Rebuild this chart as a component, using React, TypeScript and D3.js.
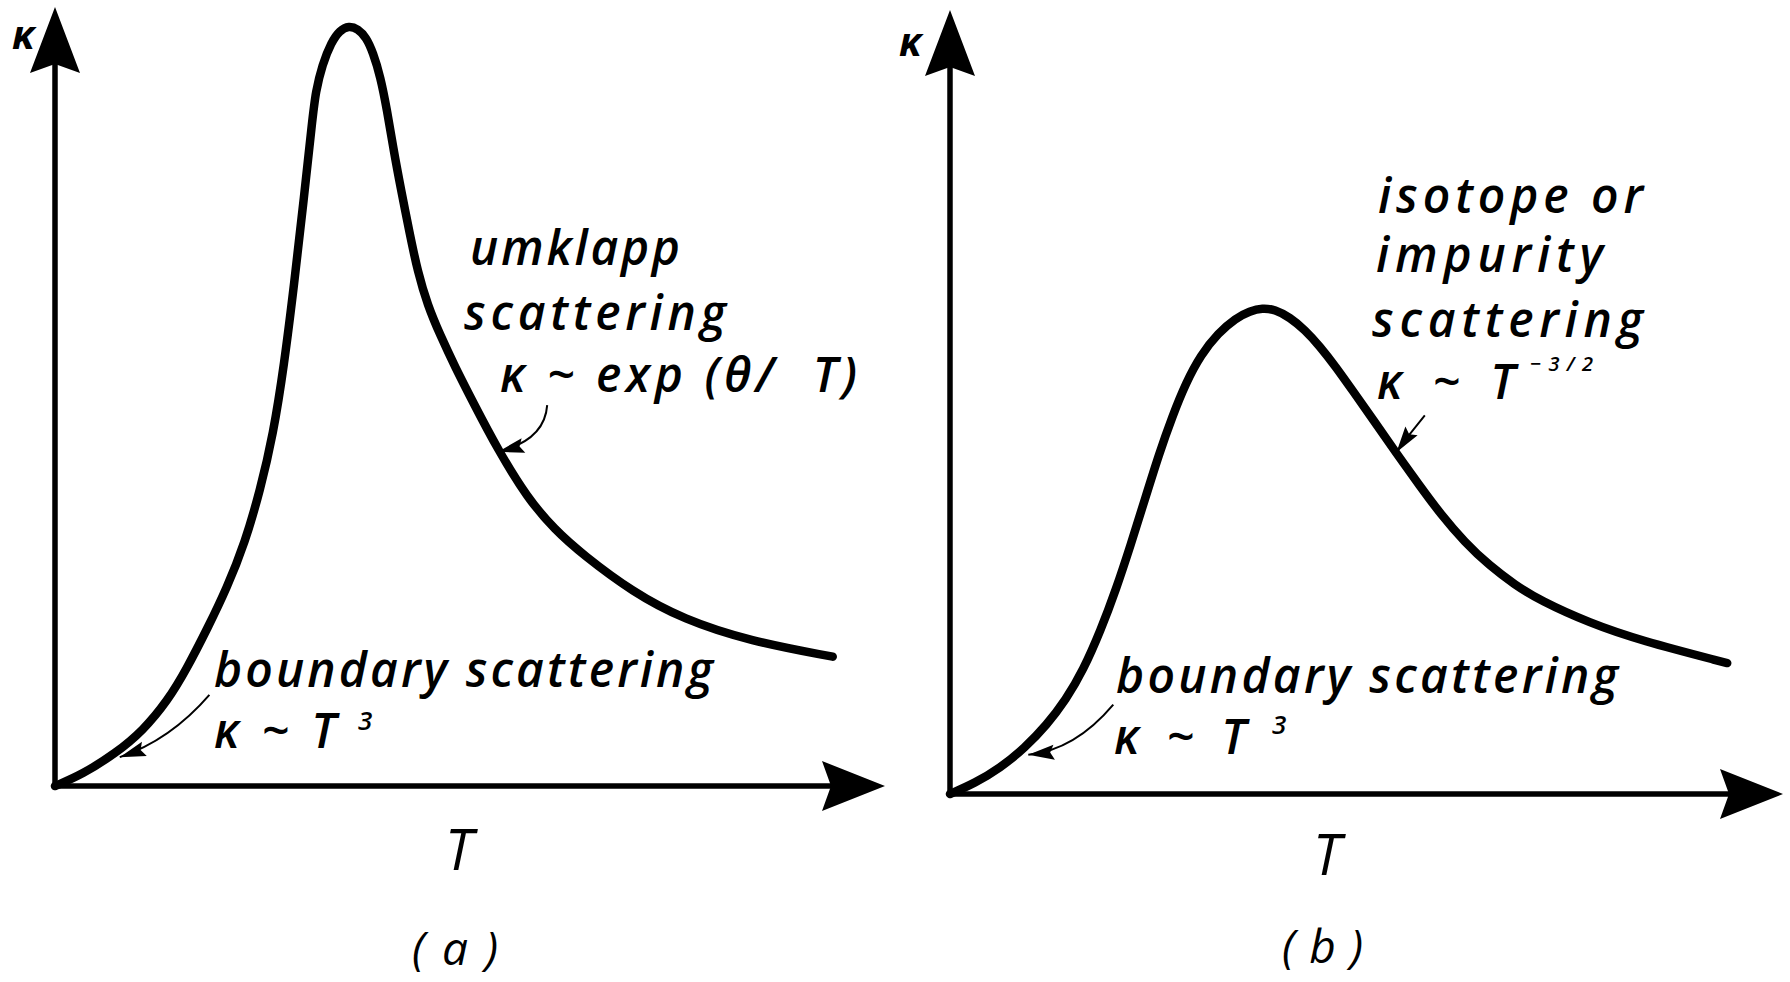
import React from "react";
import * as d3 from "d3";

const W = 1790;
const H = 982;

// ---- Data (arbitrary units, 0..100 on both axes) ----
// Panel (a): umklapp-limited peak
const tempA = [0, 3.3, 7.3, 10.6, 13.6, 15.8, 18.4, 20.7, 22.9, 24.7, 26.3, 27.6, 28.8, 29.9, 31.0, 31.4, 32.2, 33.3, 34.3, 35.4, 36.5, 37.5, 38.3, 39.2, 40.0, 40.8, 41.7, 42.7, 43.7, 44.9, 46.4, 48.2, 50.4, 53.4, 56.9, 60.2, 63.6, 69.6, 75.7, 83.7, 93.7];
const kappaA = [0, 1.5, 4.2, 7.1, 11.0, 14.9, 20.3, 25.4, 31.3, 37.9, 45.2, 54.0, 64.3, 74.6, 85.5, 89.1, 92.6, 95.5, 97.0, 97.6, 97.2, 96.1, 94.2, 91.1, 86.8, 81.6, 76.5, 71.1, 66.0, 61.7, 57.9, 53.8, 49.2, 43.1, 37.0, 32.9, 29.7, 24.9, 21.4, 18.6, 16.6];

// Panel (b): isotope / impurity-limited peak
const tempB = [0, 3.0, 6.0, 9.0, 11.6, 13.9, 16.0, 18.1, 19.9, 21.7, 23.4, 25.1, 26.7, 28.3, 30.1, 32.2, 34.3, 36.0, 37.5, 39.0, 40.8, 42.6, 44.4, 46.3, 48.3, 50.9, 53.5, 56.4, 58.9, 61.8, 64.8, 67.8, 70.8, 76.8, 82.8, 93.3];
const kappaB = [0, 1.4, 3.3, 5.9, 8.8, 12.0, 15.8, 20.9, 26.0, 31.8, 37.6, 43.4, 48.2, 52.4, 56.0, 58.8, 60.7, 61.6, 62.0, 61.8, 60.8, 59.2, 57.1, 54.5, 51.5, 47.6, 43.6, 39.3, 35.7, 32.1, 29.1, 26.7, 24.7, 21.8, 19.6, 16.7];

// Text
const axisLabelY = "κ";
const axisLabelX = "T";
const panelTitles = ["(a)", "(b)"];
const annA = ["umklapp", "scattering", "κ ~ exp (θ/  T)", "boundary scattering", "κ ~ T", "3"];
const annB = ["isotope or", "impurity", "scattering", "κ ~ T", "−3/2", "boundary scattering", "κ ~ T", "3"];

// Annotation arrows in data units: [fromT, fromK, ctrlT, ctrlK, toT, toK]
const arrowsA = [
  [18.6, 11.7, 13.9, 5.9, 7.8, 3.7],
  [59.3, 48.9, 59.0, 44.4, 53.4, 42.9],
];
const arrowsB = [
  [19.6, 11.4, 15.0, 5.6, 9.4, 5.0],
  [57.0, 48.3, 55.2, 46.0, 53.6, 43.6],
];

const FONT = "'Open Sans', 'Noto Sans', 'DejaVu Sans', sans-serif";

function arrowHead(tx: number, ty: number, dx: number, dy: number, len: number, hw: number, notch: number) {
  const n = Math.hypot(dx, dy);
  const ux = dx / n, uy = dy / n;
  const px = -uy, py = ux;
  const bx = tx - ux * len, by = ty - uy * len;
  const nx = tx - ux * (len - notch), ny = ty - uy * (len - notch);
  return `M${tx},${ty}L${bx + px * hw},${by + py * hw}L${nx},${ny}L${bx - px * hw},${by - py * hw}Z`;
}

type PanelProps = {
  xRange: [number, number];
  yRange: [number, number];
  temp: number[];
  kappa: number[];
  arrows: number[][];
  children?: React.ReactNode;
};

function Panel({ xRange, yRange, temp, kappa, arrows, children }: PanelProps) {
  const xs = d3.scaleLinear().domain([0, 100]).range(xRange);
  const ys = d3.scaleLinear().domain([0, 100]).range(yRange);
  const pts: [number, number][] = temp.map((t, i) => [t, kappa[i]]);
  const line = d3
    .line<[number, number]>()
    .x((d) => xs(d[0]))
    .y((d) => ys(d[1]))
    .curve(d3.curveBasis);
  const ox = xs(0), oy = ys(0);
  const xt = xs(100), yt = ys(100);
  return (
    <g>
      {/* axes */}
      <line x1={ox - 2.5} y1={oy} x2={xt - 40} y2={oy} stroke="#000" strokeWidth={5.5} />
      <line x1={ox} y1={oy + 2.5} x2={ox} y2={yt + 40} stroke="#000" strokeWidth={5.5} />
      <path d={arrowHead(xt, oy, 1, 0, 63, 25, 9)} fill="#000" />
      <path d={arrowHead(ox, yt, 0, -1, 66, 25, 9)} fill="#000" />
      {/* curve */}
      <path d={line(pts) || ""} fill="none" stroke="#000" strokeWidth={8.5} strokeLinecap="round" strokeLinejoin="round" />
      {/* annotation arrows */}
      {arrows.map((a, i) => {
        const fx = xs(a[0]), fy = ys(a[1]);
        const cx = xs(a[2]), cy = ys(a[3]);
        const tx = xs(a[4]), ty = ys(a[5]);
        return (
          <g key={i}>
            <path d={`M${fx},${fy}Q${cx},${cy} ${tx},${ty}`} fill="none" stroke="#000" strokeWidth={2} />
            <path d={arrowHead(tx, ty, tx - cx, ty - cy, 26, 7.5, 4)} fill="#000" />
          </g>
        );
      })}
      {children}
    </g>
  );
}

const txt = {
  fontFamily: FONT,
  fontStyle: "italic" as const,
  fontWeight: 600,
  fill: "#000",
};

export default function App() {
  return (
    <svg
      width={W}
      height={H}
      viewBox={`0 0 ${W} ${H}`}
      style={{ position: "absolute", left: 0, top: 0, background: "#fff" }}
    >
      <rect width={W} height={H} fill="#fff" />
      {/* Panel (a) */}
      <Panel xRange={[55, 885]} yRange={[786, 7]} temp={tempA} kappa={kappaA} arrows={arrowsA}>
        <text x={12} y={49} fontSize={40} {...txt} fontWeight={700}>{axisLabelY}</text>
        <text x={459} y={870} fontSize={56} textAnchor="middle" {...txt} fontWeight={400}>{axisLabelX}</text>
        <text x={412} y={965} fontSize={46} textLength={86} lengthAdjust="spacing" {...txt} fontWeight={400}>{panelTitles[0]}</text>
        <text x={470} y={265} fontSize={48} textLength={210} lengthAdjust="spacing" {...txt}>{annA[0]}</text>
        <text x={464} y={330} fontSize={48} textLength={262} lengthAdjust="spacing" {...txt}>{annA[1]}</text>
        <text x={500} y={392} fontSize={48} textLength={357} lengthAdjust="spacing" xmlSpace="preserve" {...txt}>{annA[2]}</text>
        <text x={214} y={687} fontSize={48} textLength={499} lengthAdjust="spacing" {...txt}>{annA[3]}</text>
        <text x={214} y={748} fontSize={48} textLength={122} lengthAdjust="spacing" {...txt}>{annA[4]}</text>
        <text x={358} y={730} fontSize={26} {...txt}>{annA[5]}</text>
      </Panel>
      {/* Panel (b) */}
      <Panel xRange={[950, 1783]} yRange={[794, 10]} temp={tempB} kappa={kappaB} arrows={arrowsB}>
        <text x={899} y={56} fontSize={40} {...txt} fontWeight={700}>{axisLabelY}</text>
        <text x={1327} y={875} fontSize={56} textAnchor="middle" {...txt} fontWeight={400}>{axisLabelX}</text>
        <text x={1282} y={963} fontSize={46} textLength={81} lengthAdjust="spacing" {...txt} fontWeight={400}>{panelTitles[1]}</text>
        <text x={1378} y={213} fontSize={48} textLength={265} lengthAdjust="spacing" {...txt}>{annB[0]}</text>
        <text x={1376} y={272} fontSize={48} textLength={227} lengthAdjust="spacing" {...txt}>{annB[1]}</text>
        <text x={1372} y={337} fontSize={48} textLength={271} lengthAdjust="spacing" {...txt}>{annB[2]}</text>
        <text x={1377} y={399} fontSize={48} textLength={138} lengthAdjust="spacing" {...txt}>{annB[3]}</text>
        <text x={1530} y={371} fontSize={20} textLength={63} lengthAdjust="spacing" {...txt}>{annB[4]}</text>
        <text x={1116} y={693} fontSize={48} textLength={502} lengthAdjust="spacing" {...txt}>{annB[5]}</text>
        <text x={1114} y={754} fontSize={48} textLength={132} lengthAdjust="spacing" {...txt}>{annB[6]}</text>
        <text x={1272} y={734} fontSize={26} {...txt}>{annB[7]}</text>
      </Panel>
    </svg>
  );
}
